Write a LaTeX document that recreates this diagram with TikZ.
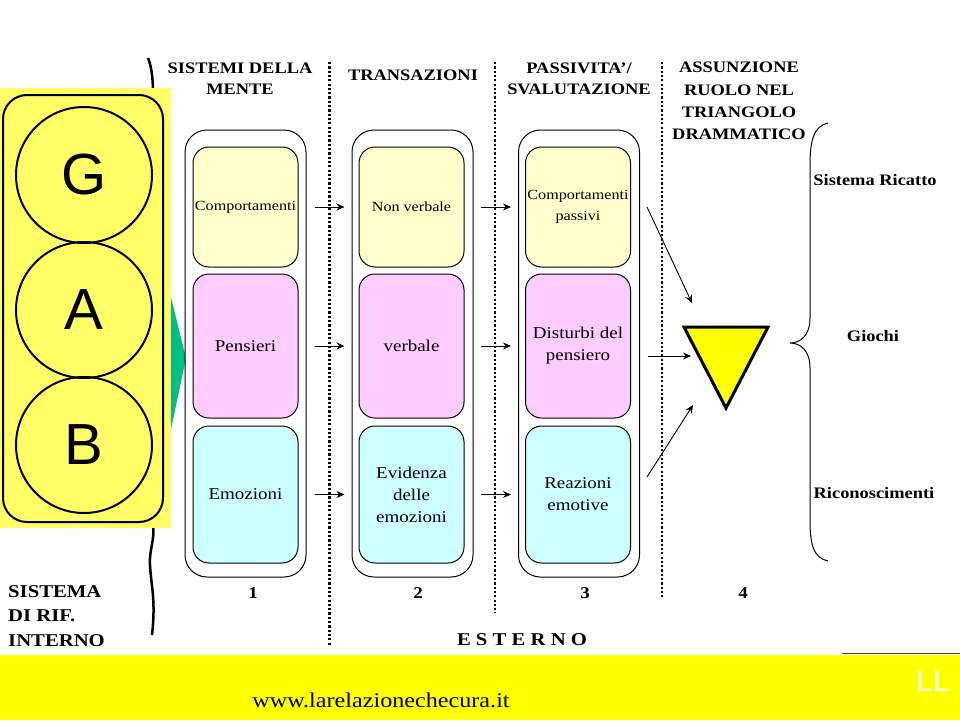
\documentclass[tikz,border=0pt]{standalone}
\usepackage{fontspec}
\setmainfont{Liberation Serif}[FakeStretch=1.15]
\newfontfamily\sansf{Liberation Sans}
\usetikzlibrary{arrows.meta}
\definecolor{panelyel}{RGB}{255,255,102}
\definecolor{bandyel}{RGB}{255,255,0}
\definecolor{lyel}{RGB}{255,255,204}
\definecolor{lpink}{RGB}{255,204,255}
\definecolor{lcyan}{RGB}{204,255,255}
\definecolor{tgreen}{RGB}{0,190,135}
\newcommand\fsz[2]{\fontsize{#1}{#2}\selectfont}
\tikzset{
  outerbox/.style={draw=black, line width=1, fill=white, rounded corners=22, minimum width=121, minimum height=447, inner sep=0},
  ibox/.style={draw=black, line width=1, rounded corners=16, minimum width=105, inner sep=1, align=center},
  big/.style={font=\fsz{16.5}{22}},
  small/.style={font=\fsz{14}{21}},
  hdr/.style={inner sep=0, align=center, font=\fsz{16}{21}\bfseries},
  rlab/.style={inner sep=0, font=\fsz{16}{20}\bfseries},
  num/.style={inner sep=0, font=\fsz{16.5}{20}\bfseries},
  dotline/.style={line width=2.2, dash pattern=on 2.2 off 2.1},
  arr/.style={line width=0.9, -{Stealth[length=8,width=7]}},
  circ/.style={draw=black, line width=2, circle, minimum size=136, inner sep=0, font=\sansf\fsz{58}{60}},
}
\begin{document}
\begin{tikzpicture}[x=1pt,y=-1pt]
\useasboundingbox (0,0) rectangle (960,720);
\fill[white] (0,0) rectangle (960,720);
% wavy line
\draw[line width=2.5] (148,58) .. controls (152,68) and (153,80) .. (153,95) -- (153,525)
  .. controls (155,540) and (149,550) .. (150,565) .. controls (151,585) and (156,600) .. (152,635);
% green arrow shape
\fill[tgreen] (165,273) -- (186,358) -- (165,458) -- cycle;
% left panel
\fill[panelyel] (0,88) rectangle (171,528);
\draw[line width=2, rounded corners=24] (3,95) rectangle (163,522);
\node[circ] (g) at (84,175) {G};
\node[circ] (a) at (84,310) {A};
\node[circ] (b) at (84,445) {B};
% dotted separators
\draw[dotline] (329.5,62) -- (329.5,645);
\draw[dotline] (495,62) -- (495,613);
\draw[dotline] (662,62) -- (662,598);
% headers
\node[hdr] (h1) at (240,79) {SISTEMI DELLA\\MENTE};
\node[hdr] (h2) at (413,75) {TRANSAZIONI};
\node[hdr] (h3) at (579,79) {PASSIVITA’/\\SVALUTAZIONE};
\node[hdr, font=\fsz{16}{22.3}\bfseries] (h4) at (739,101) {ASSUNZIONE\\RUOLO NEL\\TRIANGOLO\\DRAMMATICO};
% column boxes
\node[outerbox] (o1) at (245.5,353.5) {};
\node[outerbox] (o2) at (412.5,353.5) {};
\node[outerbox] (o3) at (579,353.5) {};
\node[ibox, small, fill=lyel, minimum height=120] (b11) at (245.5,207) {Comportamenti};
\node[ibox, big, fill=lpink, minimum height=144] (b12) at (245.5,346) {Pensieri};
\node[ibox, big, fill=lcyan, minimum height=137] (b13) at (245.5,494.5) {Emozioni};
\node[ibox, small, fill=lyel, minimum height=120] (b21) at (411.5,207) {Non verbale};
\node[ibox, big, fill=lpink, minimum height=144] (b22) at (411.5,346) {verbale};
\node[ibox, big, fill=lcyan, minimum height=137] (b23) at (411.5,494.5) {Evidenza\\delle\\emozioni};
\node[ibox, small, fill=lyel, minimum height=120] (b31) at (578,207) {Comportamenti\\passivi};
\node[ibox, big, fill=lpink, minimum height=144] (b32) at (578,346) {Disturbi del\\pensiero};
\node[ibox, big, fill=lcyan, minimum height=137] (b33) at (578,494.5) {Reazioni\\emotive};
% arrows between columns
\draw[arr] ([xshift=16]b11.east) -- ([xshift=-14]b21.west);
\draw[arr] ([xshift=16]b12.east) -- ([xshift=-14]b22.west);
\draw[arr] ([xshift=16]b13.east) -- ([xshift=-14]b23.west);
\draw[arr] ([xshift=16]b21.east) -- ([xshift=-14]b31.west);
\draw[arr] ([xshift=16]b22.east) -- ([xshift=-14]b32.west);
\draw[arr] ([xshift=16]b23.east) -- ([xshift=-14]b33.west);
% triangle
\draw[line width=3, fill=bandyel, line join=miter] (684,327) -- (768,327) -- (726,408) -- cycle;
\coordinate (s1) at (647,207);
\coordinate (e1) at (692,303);
\coordinate (s2) at (648,356);
\coordinate (e2) at (691,356);
\coordinate (s3) at (647,477);
\coordinate (e3) at (693,405);
\draw[arr] (s1) -- (e1);
\draw[arr] (s2) -- (e2);
\draw[arr] (s3) -- (e3);
% brace
\draw[line width=1] (828,123) .. controls (814,126) and (810,140) .. (810,165) -- (810,318)
  .. controls (810,336) and (800,343) .. (790,343) .. controls (800,343) and (810,350) .. (810,368)
  -- (810,520) .. controls (810,546) and (814,558) .. (828,561);
\node[rlab] (r1) at (875,180) {Sistema Ricatto};
\node[rlab] (r2) at (873,336) {Giochi};
\node[rlab] (r3) at (874,493) {Riconoscimenti};
% numbers
\node[num] (n1) at (253,593) {1};
\node[num] (n2) at (418,593) {2};
\node[num] (n3) at (585,593) {3};
\node[num] (n4) at (743,593) {4};
% bottom left label
\node[inner sep=0, anchor=west, align=left, font=\fsz{18}{24.5}\bfseries] (sys) at (8,616) {SISTEMA\\DI RIF.\\INTERNO};
\node[inner sep=0, font=\fsz{18}{22}\bfseries] (est) at (522,640) {E S T E R N O};
% bottom band
\fill[bandyel] (0,655) rectangle (960,720);
\draw[line width=1.5, black!75] (842,653.5) -- (960,653.5);
\node[inner sep=0, font=\fsz{21}{24}] (url) at (381,700) {www.larelazionechecura.it};
\node[inner sep=0, text=white, font=\sansf\fsz{30}{32}] (ll) at (933,681) {LL};
\end{tikzpicture}
\end{document}
